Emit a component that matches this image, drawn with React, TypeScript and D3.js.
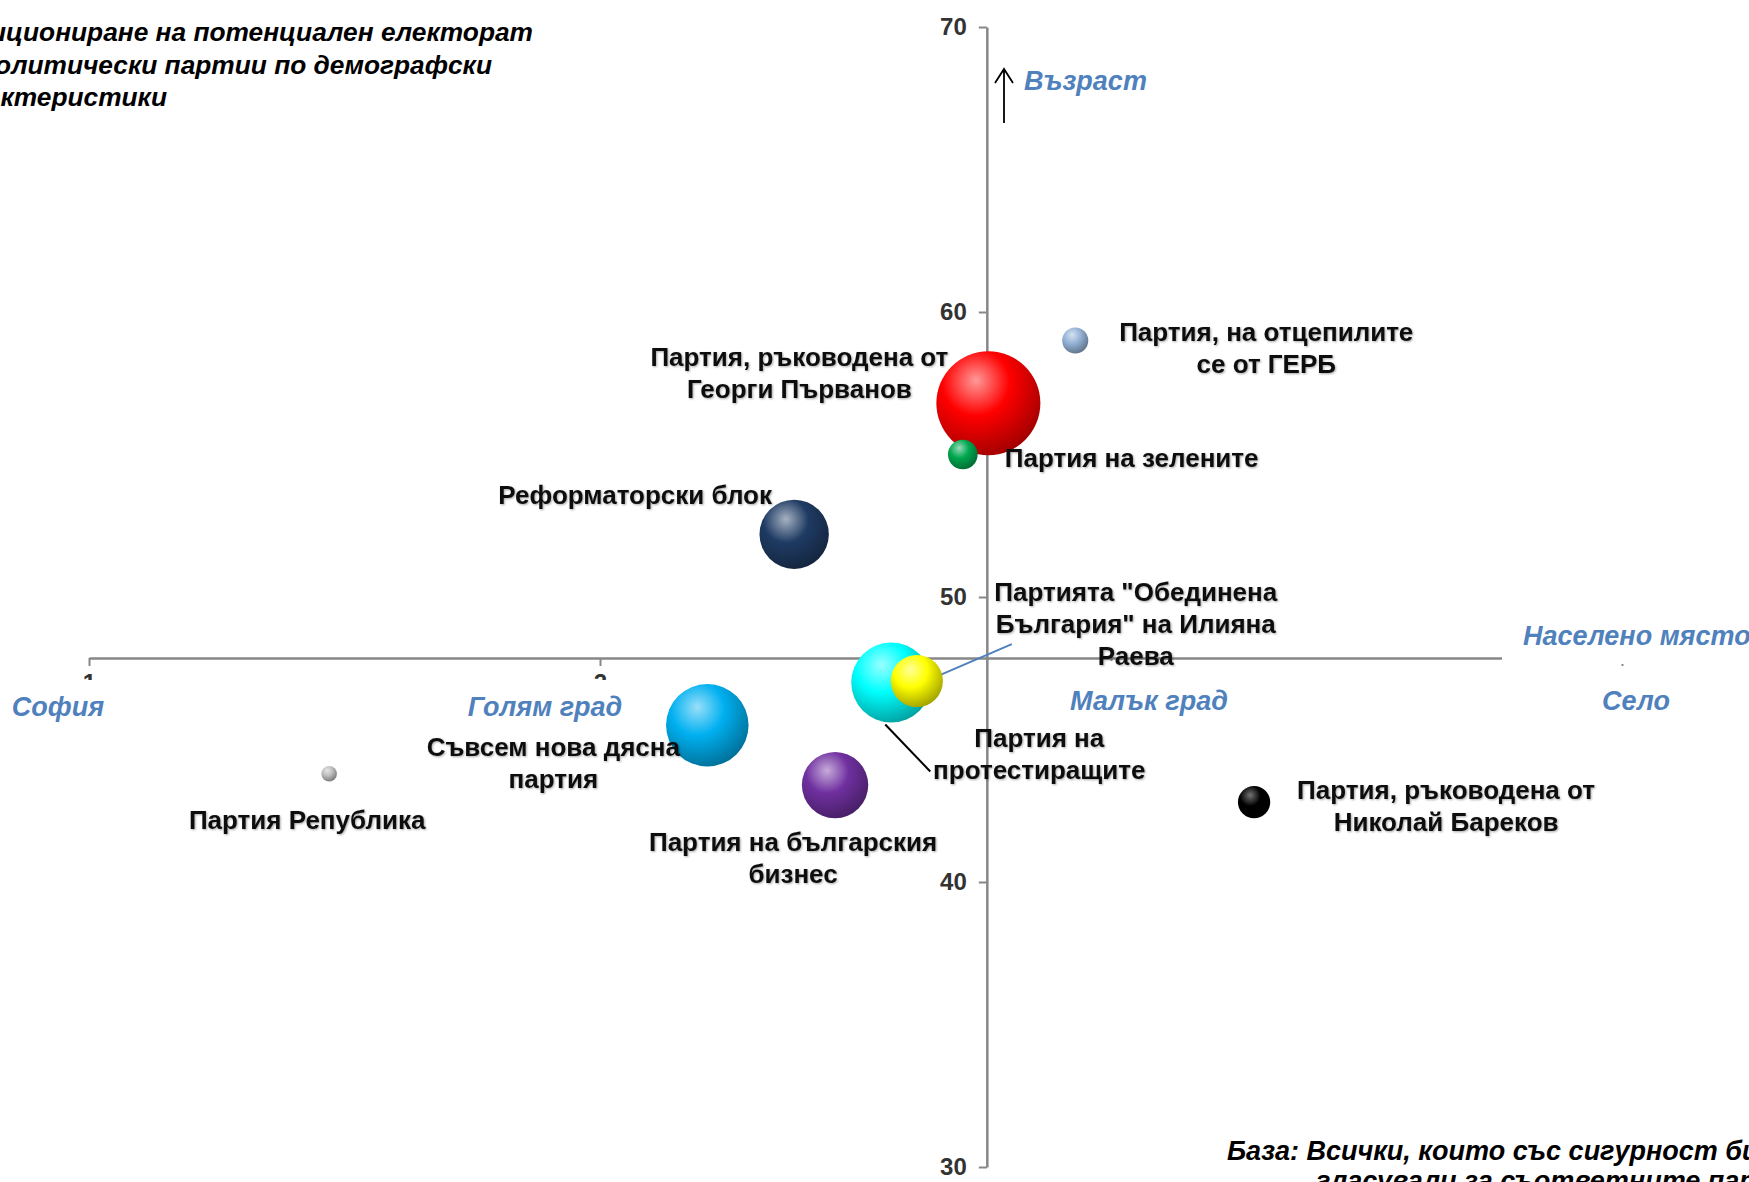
import React, { useRef, useEffect } from "react";
import * as d3 from "d3";

// settlement type (1 = София ... 4 = Село) vs average age, bubble = share
const parties = [
  "Партия, ръководена от\nГеорги Първанов",
  "Партия, на отцепилите\nсе от ГЕРБ",
  "Партия на зелените",
  "Реформаторски блок",
  "Партията \"Обединена\nБългария\" на Илияна\nРаева",
  "Партия на\nпротестиращите",
  "Съвсем нова дясна\nпартия",
  "Партия на българския\nбизнес",
  "Партия Република",
  "Партия, ръководена от\nНиколай Бареков",
];
const settlement = [2.76, 2.93, 2.71, 2.38, 2.62, 2.57, 2.21, 2.46, 1.47, 3.28];
const age = [56.8, 59.0, 55.0, 52.2, 47.05, 47.0, 45.5, 43.4, 43.8, 42.8];
const share = [27, 1.7, 2.2, 12, 6.8, 16, 17, 11, 0.6, 2.6];
const colors = [
  "#ff0000", "#95b3d7", "#00a84f", "#1f3b63", "#ffff00",
  "#00ffff", "#00b0f0", "#7030a0", "#bfbfbf", "#000000",
];

const xTicks = [1, 2, 3, 4];
const yTicks = [30, 40, 50, 60, 70];
const xCategories = ["София", "Голям град", "Малък град", "Село"];
const titleLines = [
  "Позициониране на потенциален електорат",
  "на политически партии по демографски",
  "характеристики",
];
const baseLines = [
  "База: Всички, които със сигурност биха",
  "гласували за съответните партии",
];

// label placement relative to bubble centre (px)
const labelPos = [
  { dx: -189, dy: -46, anchor: "middle" },
  { dx: 191, dy: -9, anchor: "middle" },
  { dx: 42, dy: 3, anchor: "start" },
  { dx: -159, dy: -39, anchor: "middle" },
  { dx: 219, dy: -89, anchor: "middle" },
  { dx: 148, dy: 55, anchor: "middle" },
  { dx: -154, dy: 22, anchor: "middle" },
  { dx: -42, dy: 57, anchor: "middle" },
  { dx: -22, dy: 46, anchor: "middle" },
  { dx: 192, dy: -12, anchor: "middle" },
];
// category label offsets from their tick, plus top of the white box that hides the tick text
const catPos = [
  { dx: -31, dy: 49, top: 22 },
  { dx: -55, dy: 49, top: 22 },
  { dx: 38, dy: 43, top: 3 },
  { dx: 14, dy: 43, top: 10 },
];

const W = 1749;
const H = 1182;
const font = "'Liberation Sans', Arial, sans-serif";
const blue = "#4f81bd";

function App() {
  const xAxisRef = useRef<SVGGElement>(null);
  const yAxisRef = useRef<SVGGElement>(null);

  const x = d3.scaleLinear().domain([1, 4]).range([89, 1622]);
  const y = d3.scaleLinear().domain([30, 70]).range([1167, 27]);
  const r = d3.scaleSqrt().domain([0, 27]).range([0, 52]);
  const xCross = 47.86;
  const yCross = 2.757;

  useEffect(() => {
    const xa = d3.select(xAxisRef.current);
    xa.call(d3.axisBottom(x).tickValues(xTicks).tickFormat(d3.format("d")).tickSize(8).tickSizeOuter(0));
    xa.select(".domain").attr("stroke", "#878787").attr("stroke-width", 2.5);
    xa.selectAll(".tick line").attr("stroke", "#878787").attr("stroke-width", 2);
    xa.selectAll(".tick text")
      .attr("font-family", font).attr("font-size", 24).attr("font-weight", "bold")
      .attr("fill", "#333").attr("dy", "0.9em");

    const ya = d3.select(yAxisRef.current);
    ya.call(d3.axisLeft(y).tickValues(yTicks).tickSize(8).tickSizeOuter(0));
    ya.select(".domain").attr("stroke", "#878787").attr("stroke-width", 2.5);
    ya.selectAll(".tick line").attr("stroke", "#878787").attr("stroke-width", 2);
    ya.selectAll(".tick text")
      .attr("font-family", font).attr("font-size", 24).attr("font-weight", "bold")
      .attr("fill", "#333").attr("x", -20);
  }, []);

  const order = d3.range(parties.length).sort((a, b) => share[b] - share[a]);
  const x0 = y(xCross);

  return (
    <svg width={W} height={H} style={{ position: "absolute", left: 0, top: 0, background: "#fff" }}>
      <defs>
        {colors.map((c, i) => {
          const light = d3.interpolateRgb(c, "#ffffff")(c === "#000000" ? 0.45 : 0.6);
          const dark = d3.color(c)!.darker(1.3).formatHex();
          return (
            <radialGradient key={i} id={`sph${i}`} cx="38%" cy="32%" r="72%" fx="38%" fy="28%">
              <stop offset="0%" stopColor={light} />
              <stop offset="45%" stopColor={c} />
              <stop offset="100%" stopColor={dark} />
            </radialGradient>
          );
        })}
        <filter id="glow" x="-5%" y="-20%" width="110%" height="140%">
          <feGaussianBlur in="SourceAlpha" stdDeviation="1.2" result="b" />
          <feOffset in="b" dx="1" dy="1" result="o" />
          <feComponentTransfer in="o" result="s">
            <feFuncA type="linear" slope="0.35" />
          </feComponentTransfer>
          <feMerge>
            <feMergeNode in="s" />
            <feMergeNode in="SourceGraphic" />
          </feMerge>
        </filter>
      </defs>

      <g ref={xAxisRef} transform={`translate(0,${x0})`} />
      <g ref={yAxisRef} transform={`translate(${x(yCross)},0)`} />

      {/* category labels with white boxes over the numeric ticks */}
      {xCategories.map((c, i) => (
        <g key={c}>
          <rect x={x(xTicks[i]) + catPos[i].dx - 85} y={x0 + catPos[i].top}
            width={170} height={catPos[i].dy - catPos[i].top + 24} fill="#fff" />
          <text x={x(xTicks[i]) + catPos[i].dx} y={x0 + catPos[i].dy}
            textAnchor="middle" dominantBaseline="central" fontFamily={font}
            fontSize={27} fontWeight="bold" fontStyle="italic" fill={blue}>{c}</text>
        </g>
      ))}
      <rect x={1502} y={608} width={W - 1502} height={56} fill="#fff" />
      <text x={1523} y={636} dominantBaseline="central" fontFamily={font}
        fontSize={27} fontWeight="bold" fontStyle="italic" fill={blue}>Населено място</text>

      <text x={1024} y={81} dominantBaseline="central" fontFamily={font}
        fontSize={27} fontWeight="bold" fontStyle="italic" fill={blue}>Възраст</text>
      <path d="M1004,123 L1004,69 M995,83 L1004,69 L1013,83" fill="none" stroke="#000" strokeWidth={1.8} />

      {/* leader lines */}
      <line x1={x(settlement[4]) + 23} y1={y(age[4]) - 6} x2={x(settlement[4]) + 95} y2={y(age[4]) - 37}
        stroke={blue} strokeWidth={2} />
      <line x1={x(settlement[5]) - 6} y1={y(age[5]) + 42} x2={x(settlement[5]) + 39} y2={y(age[5]) + 89}
        stroke="#000" strokeWidth={2} />

      {order.map((i) => (
        <circle key={i} cx={x(settlement[i])} cy={y(age[i])} r={r(share[i])} fill={`url(#sph${i})`} />
      ))}

      {parties.map((p, i) => (
        <text key={i} x={x(settlement[i]) + labelPos[i].dx} y={y(age[i]) + labelPos[i].dy}
          textAnchor={labelPos[i].anchor} dominantBaseline="central" fontFamily={font}
          fontSize={26} fontWeight="bold" fill="#111" filter="url(#glow)">
          {p.split("\n").map((l, k) => (
            <tspan key={k} x={x(settlement[i]) + labelPos[i].dx} dy={k === 0 ? 0 : 32}>{l}</tspan>
          ))}
        </text>
      ))}

      {titleLines.map((t, k) => (
        <text key={k} x={[533, 492, 167][k]} y={32 + k * 32.5} textAnchor="end"
          dominantBaseline="central" fontFamily={font} fontSize={26.3}
          fontWeight="bold" fontStyle="italic" fill="#000">{t}</text>
      ))}
      {baseLines.map((t, k) => (
        <text key={k} x={[1227, 1316][k]} y={1151 + k * 30} dominantBaseline="central"
          fontFamily={font} fontSize={27} fontWeight="bold" fontStyle="italic" fill="#000">{t}</text>
      ))}
    </svg>
  );
}

export default App;
